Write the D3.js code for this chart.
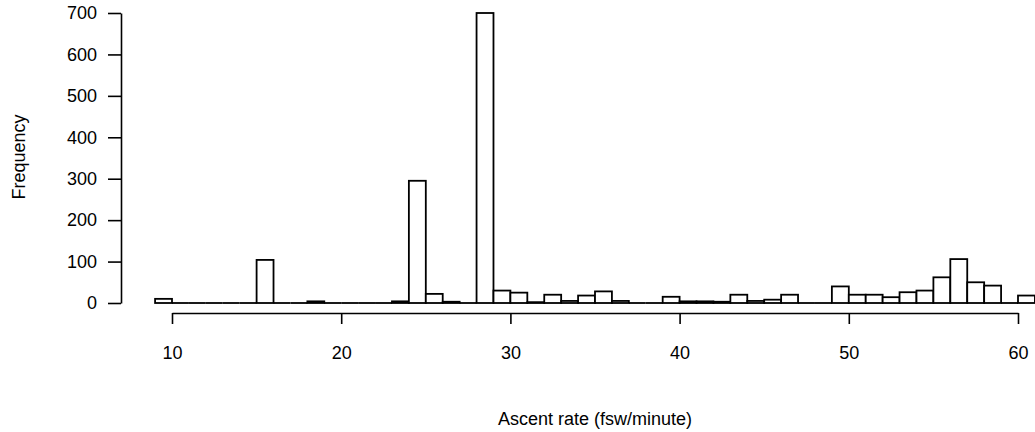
<!DOCTYPE html>
<html><head><meta charset="utf-8">
<script src="https://cdn.jsdelivr.net/npm/d3@7"></script>
<style>body{margin:0;background:#fff}svg{display:block}</style>
</head><body>
<svg id="c" width="1035" height="432"></svg>
<script>
// Histogram of ascent rates: bin start (fsw/minute) and frequency per 1-unit bin
const binStarts = [9,10,11,12,13,14,15,16,17,18,19,20,21,22,23,24,25,26,27,28,29,30,31,32,33,34,35,36,37,38,39,40,41,42,43,44,45,46,47,48,49,50,51,52,53,54,55,56,57,58,59,60];
const counts    = [10,0,0,0,0,0,104,0,0,4,0,0,0,0,4,295,22,3,0,700,30,25,2,20,5,18,28,5,0,0,15,4,4,3,20,5,8,20,0,0,40,20,20,14,26,30,62,106,50,42,0,18];
const xTicks = [10,20,30,40,50,60];
const yTicks = [0,100,200,300,400,500,600,700];
const xTitle = "Ascent rate (fsw/minute)";
const yTitle = "Frequency";

const svg = d3.select("#c");
const font = "'Liberation Sans', Arial, Helvetica, sans-serif";
const x = d3.scaleLinear().domain([10,60]).range([172,1018]);
const y = d3.scaleLinear().domain([0,700]).range([303,13]);

const bins = binStarts.map((b,i)=>({b, c:counts[i]}));

// non-empty bars as rectangles
svg.append("g").selectAll("rect").data(bins.filter(d=>d.c>0)).join("rect")
  .attr("x", d=>x(d.b))
  .attr("width", d=>x(d.b+1)-x(d.b))
  .attr("y", d=>y(d.c))
  .attr("height", d=>y(0)-y(d.c))
  .attr("fill","#fff").attr("stroke","#000").attr("stroke-width",1.8);

// empty bins collapse to a line on the baseline
svg.append("g").selectAll("line").data(bins.filter(d=>d.c===0)).join("line")
  .attr("x1", d=>x(d.b)).attr("x2", d=>x(d.b+1))
  .attr("y1", y(0)).attr("y2", y(0))
  .attr("stroke","#000").attr("stroke-width",1.8);

// y axis
const ya = svg.append("g").attr("transform","translate(121,0)")
  .call(d3.axisLeft(y).tickValues(yTicks).tickSize(13).tickPadding(11).tickSizeOuter(0));
ya.select(".domain").attr("stroke-width",1.6);
ya.selectAll(".tick line").attr("stroke-width",1.6);
ya.selectAll("text").attr("font-family",font).attr("font-size",18).attr("fill","#000");

// x axis
const xa = svg.append("g").attr("transform","translate(0,313)")
  .call(d3.axisBottom(x).tickValues(xTicks).tickSize(11).tickPadding(22).tickSizeOuter(0));
xa.select(".domain").attr("stroke-width",1.6);
xa.selectAll(".tick line").attr("stroke-width",1.6);
xa.selectAll("text").attr("font-family",font).attr("font-size",18).attr("fill","#000");

svg.append("text").attr("x",595).attr("y",425).attr("text-anchor","middle")
  .attr("font-family",font).attr("font-size",18).text(xTitle);
svg.append("text").attr("transform","translate(25,157) rotate(-90)").attr("text-anchor","middle")
  .attr("font-family",font).attr("font-size",18).text(yTitle);
</script>
</body></html>
